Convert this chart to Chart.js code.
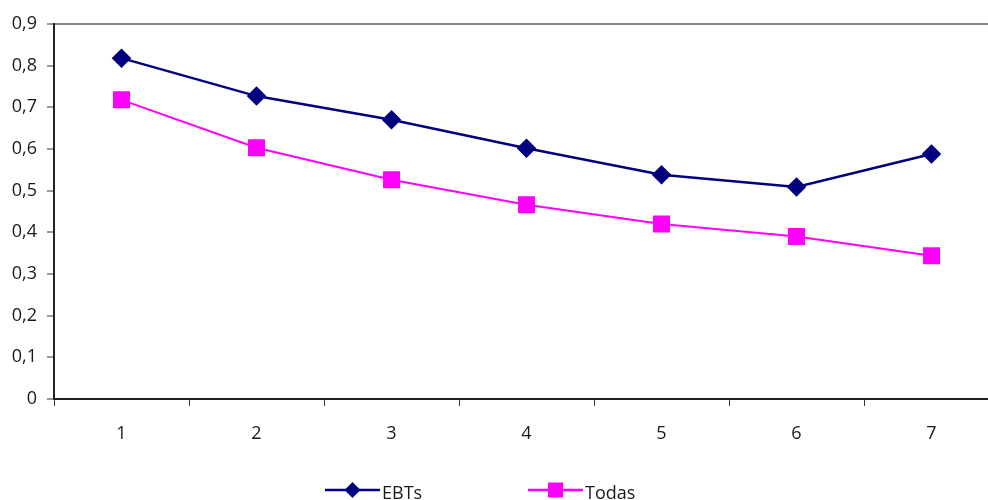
<!DOCTYPE html>
<html><head><meta charset="utf-8">
<script src="https://cdn.jsdelivr.net/npm/chart.js@4/dist/chart.umd.min.js"></script>
<style>
html,body{margin:0;padding:0;background:#fff;overflow:hidden}
canvas{display:block}
</style></head>
<body>
<canvas id="c" width="988" height="500" style="width:988px;height:500px"></canvas>
<script>
const categories = [1, 2, 3, 4, 5, 6, 7];
const ebts = [0.818, 0.727, 0.670, 0.602, 0.538, 0.509, 0.588];
const todas = [0.718, 0.603, 0.526, 0.466, 0.420, 0.390, 0.344];
const yTicks = [0,0.1,0.2,0.3,0.4,0.5,0.6,0.7,0.8,0.9];
const xTickMarks = [0.5, 1.5, 2.5, 3.5, 4.5, 5.5, 6.5];
const FONT = '"Open Sans", "Noto Sans", sans-serif';

const isInt = v => Math.abs(v - Math.round(v)) < 1e-6;

const legendPlugin = {
  id: 'customLegend',
  afterDraw(chart) {
    const ctx = chart.ctx;
    const items = [
      {ds: chart.data.datasets[0], x: 325, style: 'diamond'},
      {ds: chart.data.datasets[1], x: 528, style: 'square'}
    ];
    const y = 490;
    ctx.save();
    items.forEach(it => {
      ctx.strokeStyle = it.ds.borderColor;
      ctx.lineWidth = 2.5;
      ctx.beginPath(); ctx.moveTo(it.x, y); ctx.lineTo(it.x + 55, y); ctx.stroke();
      ctx.fillStyle = it.ds.borderColor;
      const cx = it.x + 27.5;
      ctx.beginPath();
      if (it.style === 'diamond') {
        ctx.moveTo(cx, y - 8); ctx.lineTo(cx + 8, y); ctx.lineTo(cx, y + 8); ctx.lineTo(cx - 8, y); ctx.closePath();
      } else {
        ctx.rect(cx - 7.5, y - 7.5, 15, 15);
      }
      ctx.fill();
      ctx.fillStyle = '#1a1a1a';
      ctx.font = '18px ' + FONT;
      ctx.textBaseline = 'alphabetic';
      ctx.textAlign = 'left';
      ctx.fillText(it.ds.label, it.x + 57, 499);
    });
    ctx.restore();
  }
};

new Chart(document.getElementById('c'), {
  type: 'line',
  data: {
    datasets: [
      {label: 'EBTs', data: categories.map((c, i) => ({x: c, y: ebts[i]})),
       borderColor: '#000080', backgroundColor: '#000080',
       borderWidth: 2.5, pointStyle: 'rectRot', pointRadius: 8, pointHoverRadius: 8, tension: 0},
      {label: 'Todas', data: categories.map((c, i) => ({x: c, y: todas[i]})),
       borderColor: '#FF00FF', backgroundColor: '#FF00FF',
       borderWidth: 2, pointStyle: 'rect', pointRadius: 10.6, pointHoverRadius: 10.6, tension: 0}
    ]
  },
  options: {
    responsive: false,
    maintainAspectRatio: false,
    animation: false,
    devicePixelRatio: 1,
    layout: {autoPadding: false, padding: {top: 24, left: 0, right: 0, bottom: 0}},
    plugins: {legend: {display: false}, tooltip: {enabled: false}},
    scales: {
      x: {
        type: 'linear',
        min: 0.5,
        max: 0.5 + 934 / 135,
        afterBuildTicks(scale) {
          const vals = categories.concat(xTickMarks).sort((a, b) => a - b);
          scale.ticks = vals.map(v => ({value: v}));
        },
        grid: {display: true, drawOnChartArea: false, tickLength: 7, tickWidth: 1,
          tickColor: ctx => (ctx.tick && isInt(ctx.tick.value)) ? 'rgba(0,0,0,0)' : '#333'},
        border: {display: true, color: '#222', width: 2},
        ticks: {color: '#1a1a1a', font: {family: FONT, size: 18}, padding: 17,
          autoSkip: false, maxRotation: 0,
          callback: v => isInt(v) ? String(Math.round(v)) : ''},
        afterFit(scale) { scale.height = 101; scale.paddingLeft = 0; scale.paddingRight = 0; }
      },
      y: {
        min: 0, max: 0.9,
        afterBuildTicks(scale) { scale.ticks = yTicks.map(v => ({value: v})); },
        grid: {
          display: true,
          drawOnChartArea: true,
          color: ctx => (ctx.tick && Math.abs(ctx.tick.value - 0.9) < 1e-6) ? '#888' : 'rgba(0,0,0,0)',
          lineWidth: ctx => (ctx.tick && Math.abs(ctx.tick.value - 0.9) < 1e-6) ? 2 : 0,
          tickLength: 7, tickColor: '#333', tickWidth: 1
        },
        border: {display: true, color: '#222', width: 2},
        ticks: {color: '#1a1a1a', font: {family: FONT, size: 18}, padding: 10,
          callback: v => String(Math.round(v * 10) / 10).replace('.', ',')},
        afterFit(scale) { scale.width = 54; }
      }
    }
  },
  plugins: [legendPlugin]
});
</script>
</body></html>
